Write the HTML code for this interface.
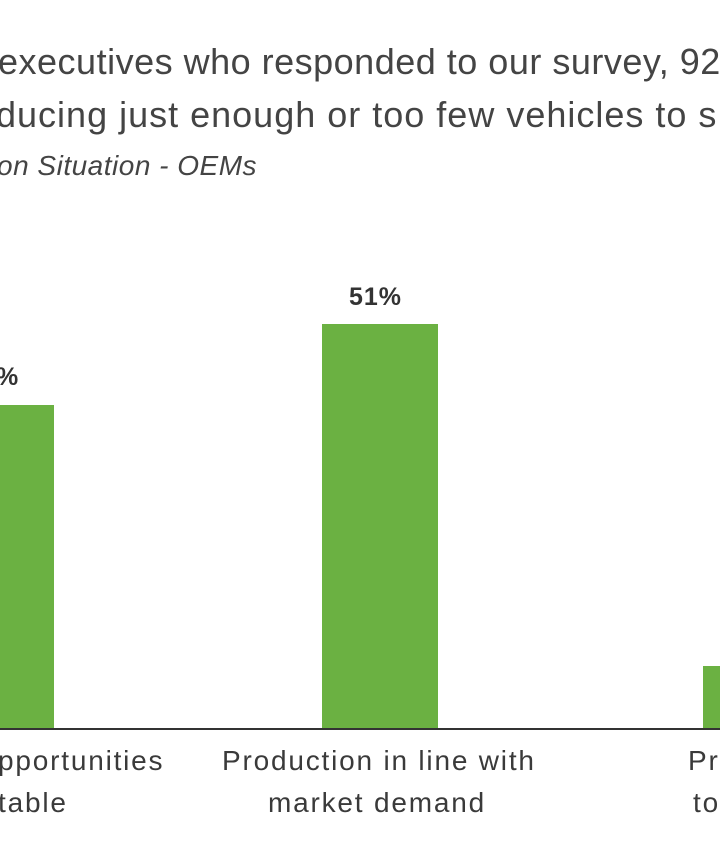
<!DOCTYPE html>
<html><head><meta charset="utf-8"><style>
html,body{margin:0;padding:0;background:#fff;width:720px;height:845px;overflow:hidden;position:relative;font-family:"Liberation Sans",Arial,sans-serif;color:#3a3a3a}
.t{position:absolute;white-space:nowrap}
.bar{position:absolute;background:#6bb142}
.lab{font-size:28px;letter-spacing:1.8px}
</style></head><body>
<div class="t" style="left:-2px;top:41px;font-size:36px;letter-spacing:0.5px;color:#444">executives who responded to our survey, 92</div>
<div class="t" style="left:-4px;top:94px;font-size:36px;letter-spacing:1px;color:#444">ducing just enough or too few vehicles to s</div>
<div class="t" style="left:-3px;top:150px;font-size:28px;letter-spacing:0.5px;font-style:italic;color:#444">on Situation - OEMs</div>

<div class="bar" style="left:0;top:405px;width:54px;height:325px"></div>
<div class="bar" style="left:322px;top:324px;width:116px;height:406px"></div>
<div class="bar" style="left:703px;top:666px;width:20px;height:64px"></div>
<div style="position:absolute;left:0;top:728px;width:720px;height:2px;background:#333"></div>

<div class="t" style="left:-4px;top:363px;font-size:25px;font-weight:bold;letter-spacing:1px;color:#333">%</div>
<div class="t" style="left:349px;top:283px;font-size:25px;font-weight:bold;letter-spacing:1px;color:#333">51%</div>

<div class="t lab" style="left:-2px;top:745px">pportunities</div>
<div class="t lab" style="left:-2px;top:787px">table</div>
<div class="t lab" style="left:222px;top:745px">Production in line with</div>
<div class="t lab" style="left:268px;top:787px">market demand</div>
<div class="t lab" style="left:688px;top:745px">Pr</div>
<div class="t lab" style="left:693px;top:787px">to</div>
</body></html>
